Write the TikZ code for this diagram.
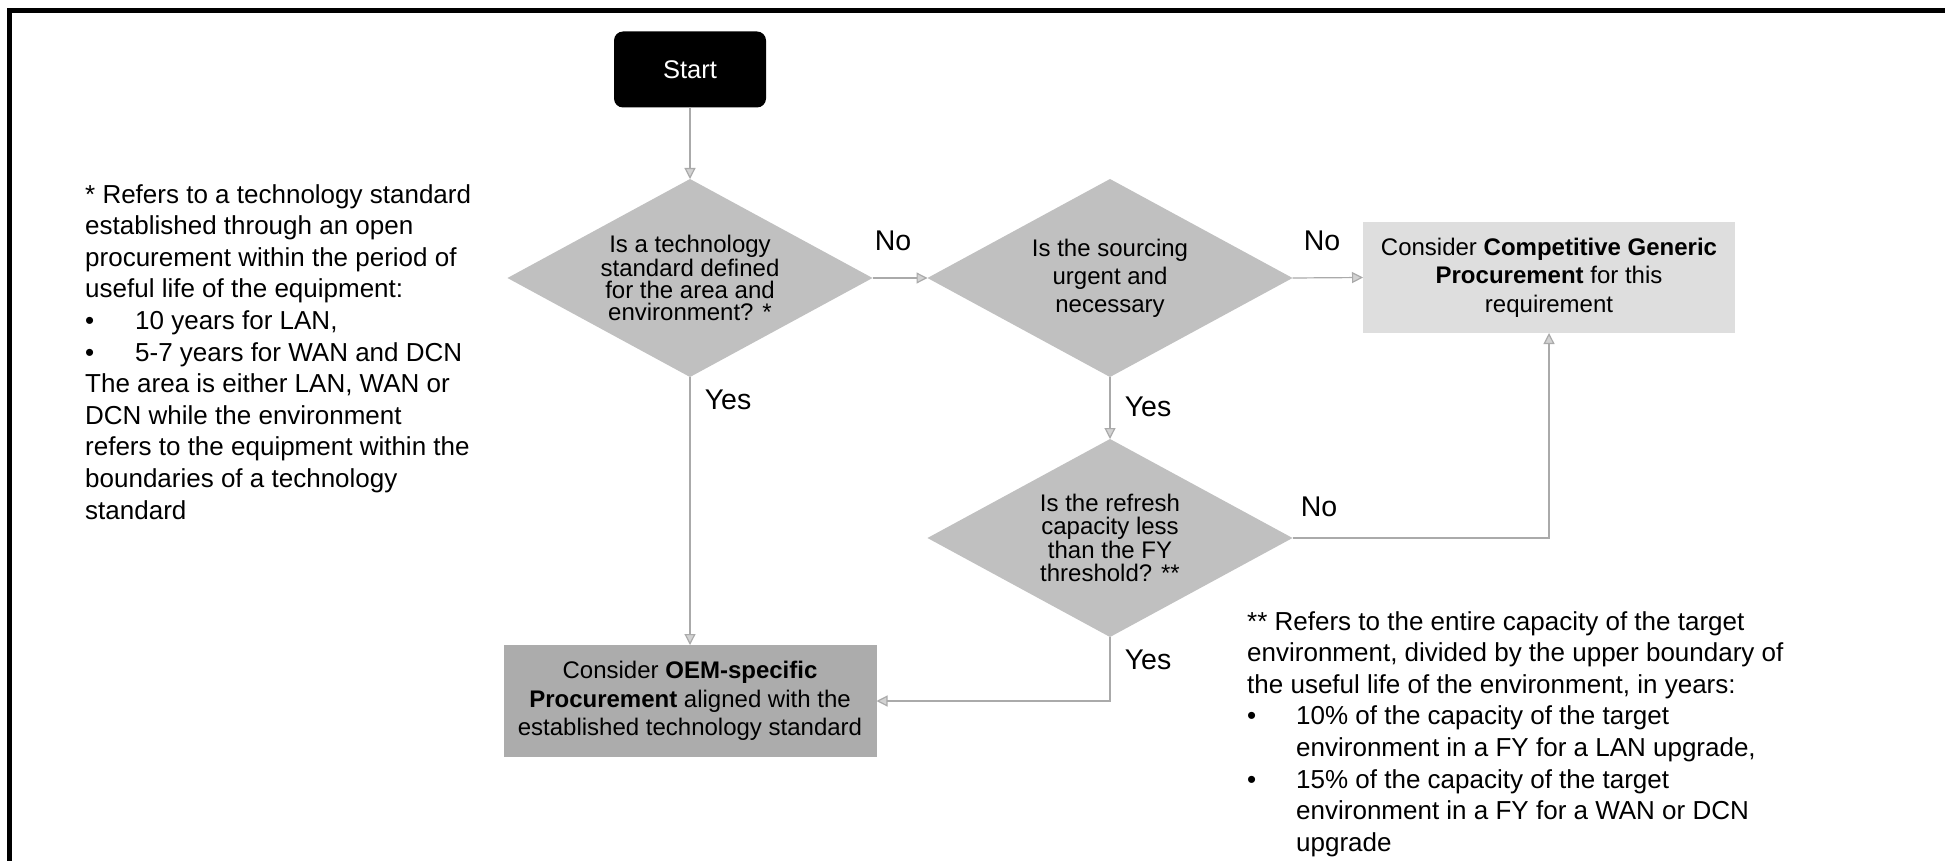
\documentclass[tikz,border=0pt]{standalone}
\usepackage{fontspec}
\setmainfont{Liberation Sans}
\usetikzlibrary{shapes.geometric,arrows.meta}
\definecolor{diafill}{RGB}{192,192,192}
\definecolor{oemfill}{RGB}{172,172,172}
\definecolor{compfill}{RGB}{222,222,222}
\definecolor{linegray}{RGB}{170,170,170}
\definecolor{arrowfill}{RGB}{210,210,210}
\begin{document}
\begin{tikzpicture}[x=1pt,y=-1pt,
  conn/.style={draw=linegray, line width=1.2pt,
    -{Triangle[length=11pt,width=11pt,fill=arrowfill]}},
  decision/.style={diamond, fill=diafill, inner sep=0pt, outer sep=0pt,
    minimum width=365pt, minimum height=198pt, shape aspect=1.84, align=center},
  actionbox/.style={rectangle, inner sep=0pt, outer sep=0pt,
    minimum width=372pt, minimum height=111pt, align=center,
    font=\fontsize{24}{28.5}\selectfont},
  answer/.style={inner sep=0pt, font=\fontsize{28.5}{30}\selectfont},
  note/.style={inner sep=0pt, anchor=north west, align=left,
    font=\fontsize{26}{31.6}\selectfont},
  startbox/.style={rectangle, fill=black, rounded corners=9pt,
    minimum width=152pt, minimum height=76pt, inner sep=0pt, outer sep=0pt,
    text=white, font=\fontsize{25.5}{28}\selectfont}
]
\useasboundingbox (0,0) rectangle (1945,861);
\fill[white] (0,0) rectangle (1945,861);
% frame
\draw[line width=5pt, line join=miter] (9.5,861) -- (9.5,10.5) -- (1945,10.5);

% nodes
\node[startbox] (start) at (690,69.5) {Start};
\node[decision, font=\fontsize{24}{22}\selectfont] (d1) at (690,278)
  {Is a technology\\standard defined\\for the area and\\environment? *};
\node[decision, font=\fontsize{24}{28}\selectfont] (d2) at (1110,278)
  {Is the sourcing\\urgent and\\necessary};
\node[decision, font=\fontsize{24}{23.3}\selectfont] (d3) at (1110,538)
  {Is the refresh\\capacity less\\than the FY\\threshold? **};
\node[actionbox, fill=compfill] (comp) at (1549,277.5)
  {Consider \textbf{Competitive Generic}\\\textbf{Procurement} for this\\requirement};
\node[actionbox, fill=oemfill, minimum width=373pt, minimum height=112pt] (oem) at (690,701)
  {Consider \textbf{OEM-specific}\\\textbf{Procurement} aligned with the\\established technology standard};

% answer labels
\node[answer] (no1) at (893,241) {No};
\node[answer] (no2) at (1322,241) {No};
\node[answer] (no3) at (1319,507) {No};
\node[answer] (yes1) at (728,400) {Yes};
\node[answer] (yes2) at (1148,407) {Yes};
\node[answer] (yes3) at (1148,660) {Yes};

% notes
\node[note] (note1) at (85,184)
  {* Refers to a technology standard\\
   established through an open\\
   procurement within the period of\\
   useful life of the equipment:\\
   \makebox[50pt][l]{•}10 years for LAN,\\
   \makebox[50pt][l]{•}5-7 years for WAN and DCN\\
   The area is either LAN, WAN or\\
   DCN while the environment\\
   refers to the equipment within the\\
   boundaries of a technology\\
   standard};
\node[note] (note2) at (1247,611)
  {** Refers to the entire capacity of the target\\
   environment, divided by the upper boundary of\\
   the useful life of the environment, in years:\\
   \makebox[49pt][l]{•}10\% of the capacity of the target\\
   \hspace*{49pt}environment in a FY for a LAN upgrade,\\
   \makebox[49pt][l]{•}15\% of the capacity of the target\\
   \hspace*{49pt}environment in a FY for a WAN or DCN\\
   \hspace*{49pt}upgrade};

% connectors
\draw[conn] (start.south) -- (d1.north);
\draw[conn] (d1.east) -- (d2.west);
\draw[conn] (d2.east) -- (comp.west);
\draw[conn] (d2.south) -- (d3.north);
\draw[conn] (d1.south) -- (oem.north);
\draw[conn] (d3.east) -| (comp.south);
\draw[conn] (d3.south) |- (oem.east);
\end{tikzpicture}
\end{document}
